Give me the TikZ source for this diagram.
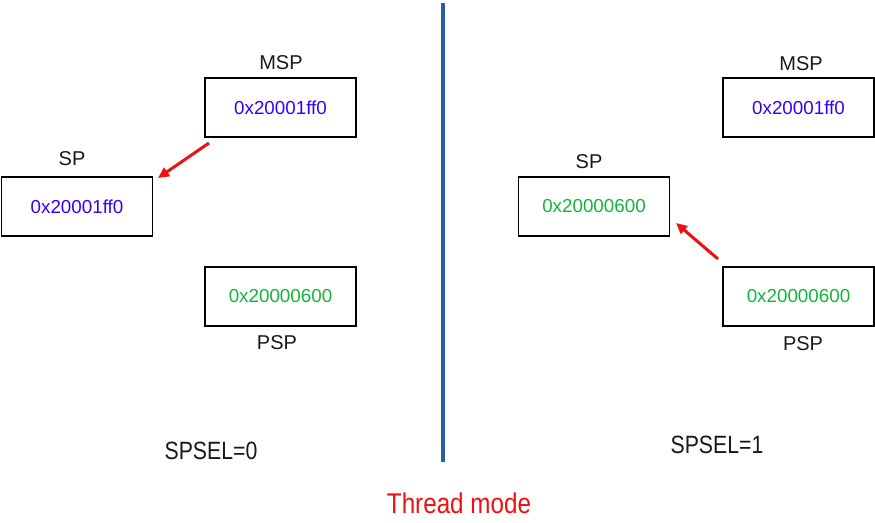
\documentclass[tikz,border=0pt]{standalone}
\usepackage{fontspec}
\setmainfont{Liberation Sans}
\newfontfamily\narrowfont[FakeStretch=0.85]{Liberation Sans}
\usetikzlibrary{arrows.meta}
\definecolor{valblue}{RGB}{51,0,255}
\definecolor{valgreen}{RGB}{20,180,60}
\definecolor{divblue}{RGB}{40,95,165}
\definecolor{arrred}{RGB}{238,17,17}
\begin{document}
\begin{tikzpicture}[x=1pt,y=-1pt,
  regbox/.style={draw=black,line width=1.4pt,minimum width=151pt,minimum height=59pt,inner sep=0pt,font=\fontsize{18.8}{22}\selectfont},
  reglabel/.style={font=\fontsize{20}{24}\selectfont,text=black!90},
  sellabel/.style={font=\narrowfont\fontsize{25}{28}\selectfont,text=black!90},
  ptr/.style={draw=arrred,line width=3pt,-{Triangle[length=11pt,width=10pt]}}]
\useasboundingbox (0,0) rectangle (875,522);
% left side
\node[regbox,text=valblue] (lmsp) at (280.5,107.5) {0x20001ff0};
\node[reglabel] (lmspl) at (281,63) {MSP};
\node[regbox,text=valblue] (lsp) at (77,206.5) {0x20001ff0};
\node[reglabel] (lspl) at (72,159) {SP};
\node[regbox,text=valgreen] (lpsp) at (280.5,296.5) {0x20000600};
\node[reglabel] (lpspl) at (277,343) {PSP};
\coordinate (la) at (209,143);
\coordinate (lb) at (158,178);
\draw[ptr] (la) -- (lb);
\node[sellabel] (sel0) at (211,451) {SPSEL=0};
% divider
\coordinate (dtop) at (443,3);
\coordinate (dbot) at (443,462);
\draw[divblue,line width=3.2pt] (dtop) -- (dbot);
% right side
\node[regbox,text=valblue] (rmsp) at (798.5,107.5) {0x20001ff0};
\node[reglabel] (rmspl) at (801,64) {MSP};
\node[regbox,text=valgreen] (rsp) at (594,206.5) {0x20000600};
\node[reglabel] (rspl) at (589,162) {SP};
\node[regbox,text=valgreen] (rpsp) at (798.5,296.5) {0x20000600};
\node[reglabel] (rpspl) at (803,344) {PSP};
\coordinate (ra) at (718,259);
\coordinate (rb) at (676,223);
\draw[ptr] (ra) -- (rb);
\node[sellabel] (sel1) at (717,445) {SPSEL=1};
\node[font=\narrowfont\fontsize{28.5}{32}\selectfont,text=arrred] (mode) at (459,503) {Thread mode};
\end{tikzpicture}
\end{document}
